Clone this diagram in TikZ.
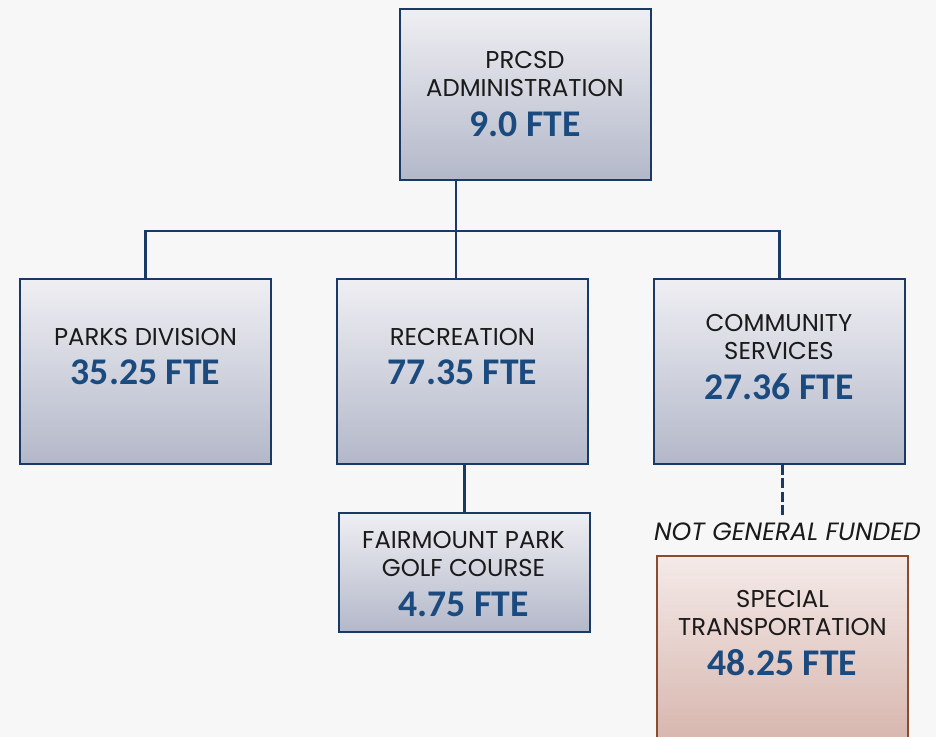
\documentclass[tikz,border=0pt]{standalone}
\usepackage{fontspec}
\setmainfont{Poppins}
\newfontfamily\ftefamily{Carlito}

\definecolor{pagebg}{HTML}{F7F7F7}
\definecolor{navyline}{HTML}{1A3A66}
\definecolor{ftetext}{HTML}{1B4A7E}
\definecolor{labeltext}{HTML}{1A1A1A}
\definecolor{boxtop}{HTML}{EFEFF3}
\definecolor{boxbottom}{HTML}{B3B8C9}
\definecolor{spectop}{HTML}{F4EAE8}
\definecolor{specbottom}{HTML}{D5B2AA}
\definecolor{specline}{HTML}{8A4B2E}

\newcommand{\fte}[1]{{\ftefamily\bfseries\fontsize{26.8}{30}\selectfont\color{ftetext}#1}}

\begin{document}
\begin{tikzpicture}[
        x=0.025cm, y=-0.025cm,
        orgbox/.style={draw=navyline, line width=1.5pt, top color=boxtop, bottom color=boxbottom, minimum width=6.275cm, inner sep=0pt},
        specbox/.style={orgbox, draw=specline, top color=spectop, bottom color=specbottom},
        boxtext/.style={align=center, font=\fontsize{17.3}{20}\selectfont, text=labeltext, inner sep=0pt},
        fundtext/.style={font=\fontsize{17.8}{20}\selectfont\itshape, text=labeltext, inner sep=3pt},
        link/.style={draw=navyline, line width=1.6pt},
        fundlink/.style={link, line width=2.3pt, dash pattern=on 7pt off 2.5pt}
    ]
        \clip (0,0) rectangle (936,737);
        \fill[pagebg] (0,0) rectangle (936,737);

        % boxes
        \node[orgbox, minimum height=4.275cm] (admin) at (525.5,94.5) {};
        \node[orgbox, minimum height=4.625cm] (parks) at (145.5,371.5) {};
        \node[orgbox, minimum height=4.625cm] (rec) at (462.5,371.5) {};
        \node[orgbox, minimum height=4.625cm] (comm) at (779.5,371.5) {};
        \node[orgbox, minimum height=2.975cm] (golf) at (464.5,572.5) {};
        \node[specbox, minimum height=5cm] (special) at (782.5,656) {};

        % box texts
        \node[boxtext] (admin-t) at (525,94) {PRCSD\\ADMINISTRATION\\[8pt]\fte{9.0 FTE}};
        \node[boxtext] (parks-t) at (145.5,356.5) {PARKS DIVISION\\[8pt]\fte{35.25 FTE}};
        \node[boxtext] (rec-t) at (462.5,356.5) {RECREATION\\[8pt]\fte{77.35 FTE}};
        \node[boxtext] (comm-t) at (779,357) {COMMUNITY\\SERVICES\\[8pt]\fte{27.36 FTE}};
        \node[boxtext] (golf-t) at (463.5,574) {FAIRMOUNT PARK\\GOLF COURSE\\[8pt]\fte{4.75 FTE}};
        \node[boxtext] (special-t) at (782.5,633) {SPECIAL\\TRANSPORTATION\\[8pt]\fte{48.25 FTE}};
        \node[fundtext] (nogf) at (787.5,531.5) {NOT GENERAL FUNDED};

        % connectors
        \coordinate (hub) at (456,231);
        \draw[link] (hub |- admin.south) -- (hub |- rec.north);
        \draw[link] (parks.north) |- (hub) -| (comm.north);
        \draw[link] (golf.north |- rec.south) -- (golf.north);
        \draw[fundlink] (special.north |- comm.south) -- (special.north |- nogf.north);
    \end{tikzpicture}
\end{document}
